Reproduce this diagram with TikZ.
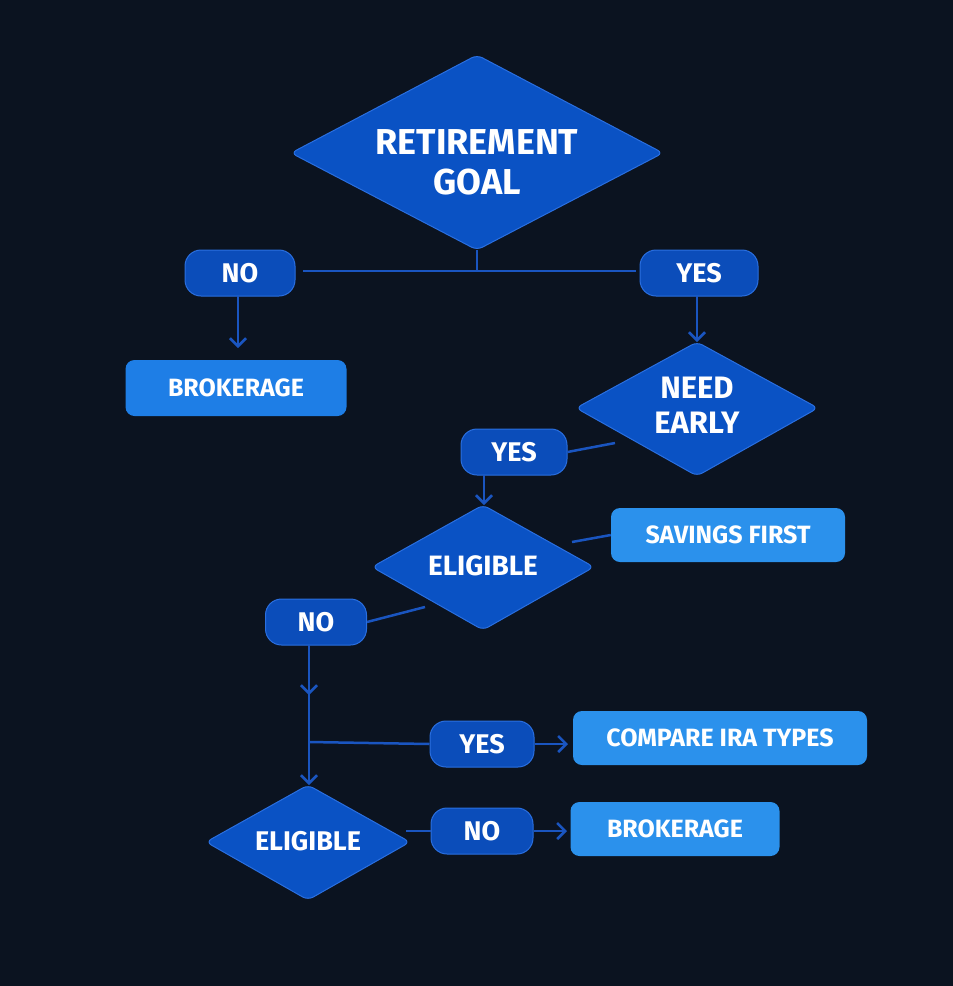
\documentclass[tikz,border=0pt]{standalone}
\usepackage{fontspec}
\setmainfont{Fira Sans}
\usetikzlibrary{shapes.geometric,arrows.meta}
\definecolor{bg}{HTML}{0B1320}
\definecolor{dia}{HTML}{0A52C4}
\definecolor{diab}{HTML}{2A6FE0}
\definecolor{pill}{HTML}{0B4DBA}
\definecolor{boxa}{HTML}{1E7EE6}
\definecolor{boxb}{HTML}{2B91EC}
\definecolor{ln}{HTML}{1A55C0}
\newcommand{\mydmd}[6]{%
 \draw[fill=dia,draw=diab,line width=1pt,rounded corners=5pt] (#2-#4,#3) -- (#2,#3-#5) -- (#2+#4,#3) -- (#2,#3+#5) -- cycle;
 \node[text=white,align=center,font=\bfseries#6] (#1) at (#2,#3) {};
 \coordinate (#1-s) at (#2,#3+#5);}
\begin{document}
\begin{tikzpicture}[x=1pt,y=-1pt,
 dtxt/.style={text=white,align=center,font=\bfseries},
 pl/.style={rounded corners=16pt,fill=pill,draw=diab,line width=1pt,text=white,font=\bfseries\fontsize{27}{30}\selectfont,minimum height=46pt},
 bx/.style={rounded corners=9pt,fill=boxa,text=white,font=\bfseries\fontsize{25}{28}\selectfont},
 con/.style={draw=ln,line width=2.5pt},
 arr/.style={con,-{Straight Barb[length=8pt,width=16pt]}}]
\fill[bg] (0,0) rectangle (953,986);
\useasboundingbox (0,0) rectangle (953,986);
\draw[fill=dia,draw=diab,line width=1pt,rounded corners=6pt] (291,153) -- (477,55) -- (663,153) -- (477,250) -- cycle;
\node[dtxt,font=\bfseries\fontsize{36}{40}\selectfont] (g) at (477,162) {RETIREMENT\\GOAL};
\draw[fill=dia,draw=diab,line width=1pt,rounded corners=6pt] (576,408) -- (697,342) -- (818,408) -- (697,476) -- cycle;
\node[dtxt,font=\bfseries\fontsize{31}{35}\selectfont] (ne) at (697,405) {NEED\\EARLY};
\draw[fill=dia,draw=diab,line width=1pt,rounded corners=6pt] (372,567) -- (483,505) -- (594,567) -- (483,630) -- cycle;
\node[dtxt,font=\bfseries\fontsize{28}{30}\selectfont] (el1) at (483,566) {ELIGIBLE};
\draw[fill=dia,draw=diab,line width=1pt,rounded corners=6pt] (206,842) -- (308,785) -- (410,842) -- (308,900) -- cycle;
\node[dtxt,font=\bfseries\fontsize{27}{30}\selectfont] (el2) at (308,841) {ELIGIBLE};
\coordinate (gs) at (477,250);
\node[pl,minimum width=110pt] (no1) at (240,273) {NO};
\node[pl,minimum width=118pt] (yes1) at (699,273) {YES};
\node[bx,minimum width=221pt,minimum height=56pt] (b1) at (236,388) {BROKERAGE};
\node[pl,minimum width=106pt] (yes2) at (514,452) {YES};
\node[bx,fill=boxb,minimum width=234pt,minimum height=54pt] (sf) at (728,535) {SAVINGS FIRST};
\node[pl,minimum width=101pt] (no2) at (316,622) {NO};
\node[pl,minimum width=104pt] (yes3) at (482,744) {YES};
\node[bx,fill=boxb,minimum width=294pt,minimum height=54pt] (ci) at (720,738) {COMPARE IRA TYPES};
\node[pl,minimum width=102pt] (no3) at (482,831) {NO};
\node[bx,fill=boxb,minimum width=209pt,minimum height=54pt] (b2) at (675,829) {BROKERAGE};
\coordinate (j1) at (477,271);
\coordinate (j2) at (309,742);
\draw[con] (gs) -- (j1);
\draw[con] (303,271) -- (636,271);
\draw[arr] (238,296) -- (238,348);
\draw[arr] (697,296) -- (697,342);
\draw[con] (615,443) -- (yes2.east);
\draw[arr] (484,475) -- (484,505);
\draw[con] (572,542) -- (sf.west);
\draw[con] (425,607) -- (no2.east);
\draw[arr] (309,645) -- (309,695);
\draw[arr] (309,690) -- (309,785);
\draw[con] (j2) -- (yes3.west);
\draw[arr] (yes3.east) -- (568,744);
\draw[con] (406,831) -- (no3.west);
\draw[arr] (no3.east) -- (567,831);
\end{tikzpicture}
\end{document}
